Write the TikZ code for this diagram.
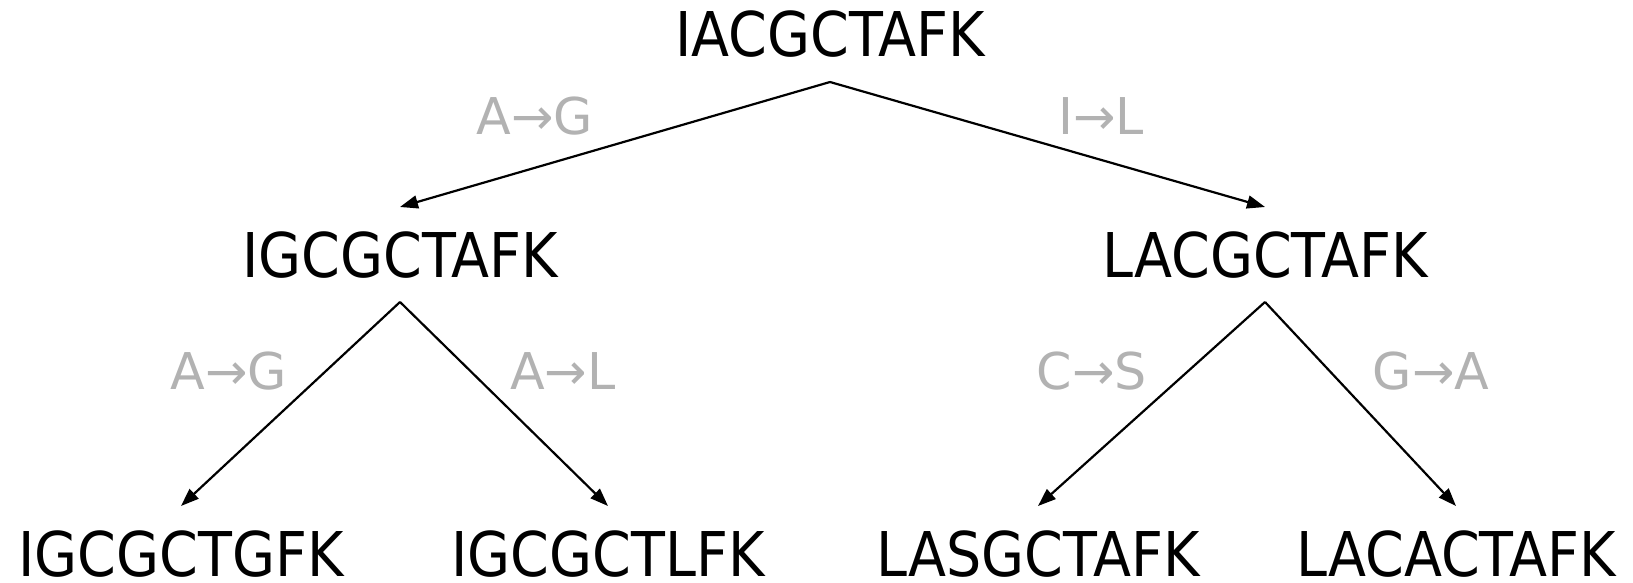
\documentclass[tikz,border=0pt]{standalone}
\usepackage{fontspec}
\setmainfont{DejaVu Sans}[FakeStretch=0.9]
\newfontfamily\labfont{DejaVu Sans}
\usetikzlibrary{arrows.meta}
\tikzset{
seq/.style={anchor=base,inner sep=0pt,outer xsep=0pt,outer ysep=25pt,
  text height=45pt,text depth=0pt,font=\fontsize{61.7}{70}\selectfont},
mut/.style={anchor=base,inner sep=0pt,text=black!30,
  font=\labfont\fontsize{50.7}{60}\selectfont},
link/.style={draw,line width=2.2pt,-{Triangle[length=18pt,width=13pt]}}
}
\begin{document}
\begin{tikzpicture}[x=1pt,y=-1pt]
\useasboundingbox (0,0) rectangle (1633,583);
\path
(830,57) node[seq](1){IACGCTAFK}
(400,277) node[seq](2){IGCGCTAFK}
(1265,277) node[seq](3){LACGCTAFK}
(181,576) node[seq](4){IGCGCTGFK}
(608,576) node[seq](5){IGCGCTLFK}
(1038,576) node[seq](6){LASGCTAFK}
(1456,576) node[seq](7){LACACTAFK};
\path[link] (1.south)--(2.north);
\path[link] (1.south)--(3.north);
\path[link] (2.south)--(4.north);
\path[link] (2.south)--(5.north);
\path[link] (3.south)--(6.north);
\path[link] (3.south)--(7.north);

\path
(535,135) node[mut](12){A→G}
(1101,135) node[mut](13){I→L}
(229,389) node[mut](24){A→G}
(563,389) node[mut](25){A→L}
(1092,389) node[mut](36){C→S}
(1431,389) node[mut](37){G→A};
\end{tikzpicture}
\end{document}
